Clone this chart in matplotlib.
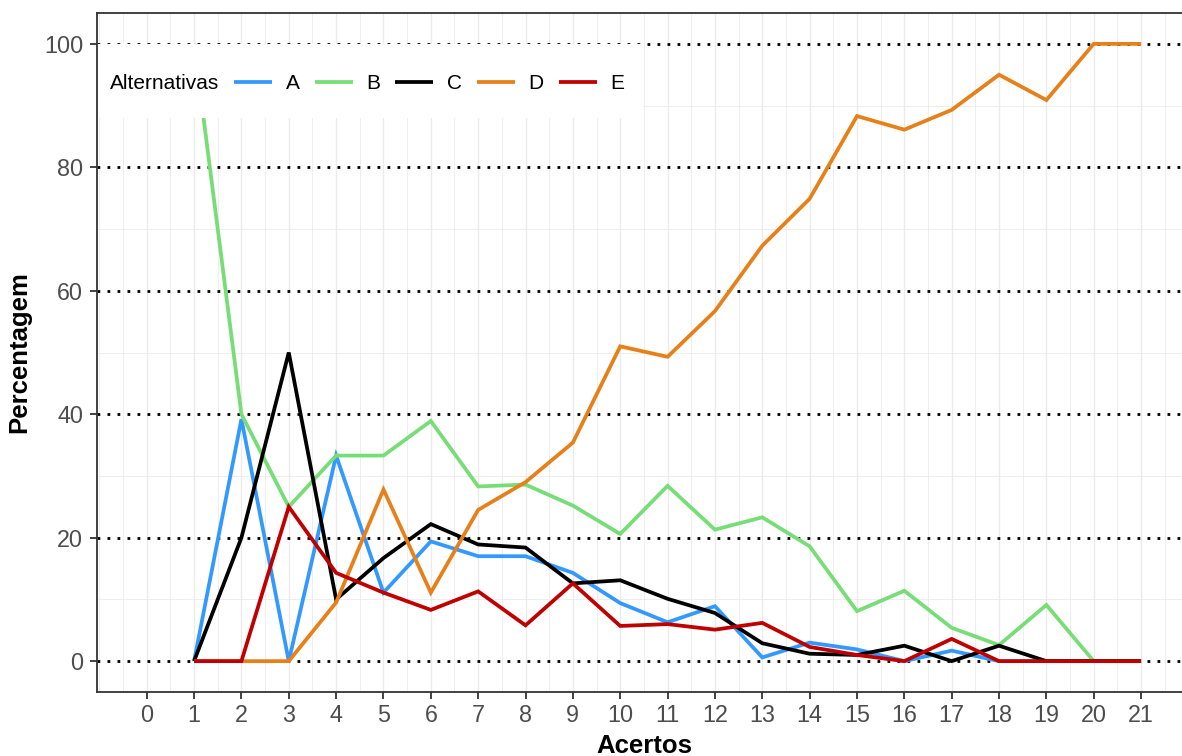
import matplotlib
matplotlib.use("Agg")
import matplotlib.pyplot as plt
from matplotlib.patches import Rectangle
from matplotlib.ticker import MultipleLocator

plt.rcParams['font.family'] = ['Liberation Sans', 'DejaVu Sans']

acertos = list(range(1, 22))
alt_A = [0, 39.2, 0, 33.3, 11.1, 19.4, 17.0, 17.0, 14.3, 9.4, 6.3, 8.9, 0.6, 3.0, 1.9, 0, 1.7, 0, 0, 0, 0]
alt_B = [100, 40, 25, 33.3, 33.3, 38.9, 28.3, 28.6, 25.2, 20.6, 28.4, 21.3, 23.3, 18.6, 8.1, 11.4, 5.4, 2.6, 9.1, 0, 0]
alt_C = [0, 20, 50, 10, 16.7, 22.2, 18.9, 18.4, 12.6, 13.1, 10.1, 7.8, 2.9, 1.2, 1.0, 2.5, 0, 2.5, 0, 0, 0]
alt_D = [0, 0, 0, 9.5, 27.8, 11.1, 24.5, 29.0, 35.4, 51.0, 49.3, 56.7, 67.3, 74.9, 88.3, 86.1, 89.3, 95.0, 90.9, 100, 100]
alt_E = [0, 0, 25, 14.3, 11.1, 8.3, 11.3, 5.8, 12.6, 5.7, 6.0, 5.1, 6.2, 2.3, 1.0, 0, 3.6, 0, 0, 0, 0]
series_names = ['A', 'B', 'C', 'D', 'E']
series_colors = ['#3399FF', '#77DD77', '#000000', '#E8801A', '#C00000']
x_ticks = list(range(0, 22))
y_ticks = [0, 20, 40, 60, 80, 100]

W, H = 1182, 756
fig = plt.figure(figsize=(W / 100, H / 100), dpi=100)
left_px, right_px, top_px, bottom_px = 97, 1190.8, 13, 692
ax = fig.add_axes([left_px / W, (H - bottom_px) / H, (right_px - left_px) / W, (bottom_px - top_px) / H])

ax.set_xlim(-1.05, 22.05)
ax.set_ylim(-5, 105)

grid_c = '#EBEBEB'
ax.xaxis.set_minor_locator(MultipleLocator(0.5))
ax.yaxis.set_minor_locator(MultipleLocator(10))
ax.grid(True, which='major', axis='x', color=grid_c, lw=1.0, zorder=0)
ax.grid(True, which='minor', axis='both', color=grid_c, lw=0.6, zorder=0)
ax.set_axisbelow(True)

for yv in y_ticks:
    ax.axhline(yv, color='black', lw=2.0, linestyle=(0, (1, 2.6)), dash_capstyle='butt', zorder=1)

data = [alt_A, alt_B, alt_C, alt_D, alt_E]
handles = []
for name, vals, col in zip(series_names, data, series_colors):
    ln, = ax.plot(acertos, vals, color=col, lw=2.7, label=name, zorder=3,
                  solid_joinstyle='miter', solid_capstyle='butt')
    handles.append(ln)

ax.set_xticks(x_ticks)
ax.set_yticks(y_ticks)
ax.tick_params(axis='both', which='major', colors='#333333', labelcolor='#4D4D4D',
               labelsize=16.8, length=5, width=1.3)
ax.tick_params(axis='y', pad=5)
ax.tick_params(axis='x', pad=4)
ax.tick_params(which='minor', length=0)
for s in ax.spines.values():
    s.set_color('#333333')
    s.set_linewidth(1.3)
    s.set_zorder(8)

ax.set_xlabel('Acertos', fontsize=18.5, fontweight='bold', labelpad=5)
ax.set_ylabel('Percentagem', fontsize=18.5, fontweight='bold', labelpad=9)

# legend background box
ax.add_patch(Rectangle((0, 0.8454), 0.4992, 0.9545 - 0.8454, transform=ax.transAxes,
                       facecolor='white', edgecolor='none', zorder=4))
ax.text(0.0119, 0.896, 'Alternativas', transform=ax.transAxes, fontsize=15,
        va='center', ha='left', zorder=5)
leg = ax.legend(handles=handles, loc='center left', bbox_to_anchor=(0.1253, 0.896),
                ncol=5, frameon=False, fontsize=15, handlelength=1.83,
                handletextpad=0.65, columnspacing=0.72, borderpad=0, borderaxespad=0)
leg.set_zorder(6)

fig.savefig('out.png', dpi=100)
